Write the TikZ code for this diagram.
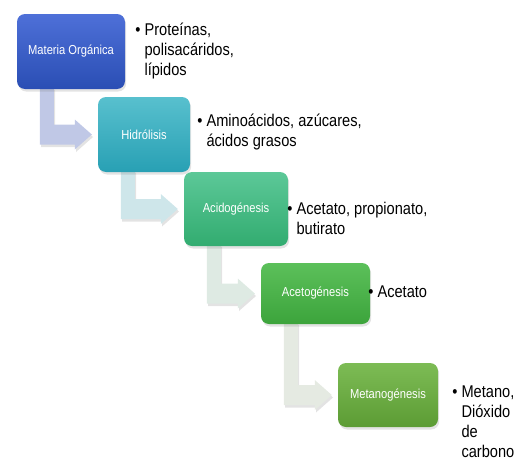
\documentclass[tikz,border=0pt]{standalone}
\usepackage{fontspec}
\setmainfont[FakeStretch=0.86]{Liberation Sans}
\usetikzlibrary{calc,positioning,shadows,backgrounds}

\definecolor{orgtop}{RGB}{78,112,216}
\definecolor{orgbot}{RGB}{42,78,180}
\definecolor{hidtop}{RGB}{88,192,206}
\definecolor{hidbot}{RGB}{40,160,180}
\definecolor{acitop}{RGB}{92,200,152}
\definecolor{acibot}{RGB}{50,172,112}
\definecolor{acetop}{RGB}{92,192,90}
\definecolor{acebot}{RGB}{60,164,60}
\definecolor{mettop}{RGB}{125,188,85}
\definecolor{metbot}{RGB}{92,156,52}
\definecolor{arrorg}{RGB}{192,200,230}
\definecolor{arrhid}{RGB}{206,230,234}
\definecolor{arraci}{RGB}{222,234,227}
\definecolor{arrace}{RGB}{229,234,226}

\newcommand\bentarrow[3]{%
  \fill[#3,softshadow] let \p1=(#1.south west), \p2=(#2.west) in
    (\x1+23pt,\y1+2pt) -- (\x1+37pt,\y1+2pt) -- (\x1+37pt,\y2+10pt)
    -- (\x2-23pt,\y2+10pt) -- (\x2-23pt,\y2+15pt) -- (\x2-6pt,\y2)
    -- (\x2-23pt,\y2-15pt) -- (\x2-23pt,\y2-10pt) -- (\x1+23pt,\y2-10pt) -- cycle;}

\begin{document}
\begin{tikzpicture}[x=1pt,y=1pt,
  softshadow/.style={drop shadow={opacity=.22,shadow xshift=1.2pt,shadow yshift=-2.5pt}},
  stage/.style={rounded corners=8pt,inner sep=0pt,text=white,
    font=\fontsize{13}{15}\selectfont,softshadow},
  notes/.style={inner sep=0pt,font=\fontsize{17}{20}\selectfont}]
  \useasboundingbox (0,0) rectangle (514,-463);

  \node[stage,top color=orgtop,bottom color=orgbot,minimum width=108pt,minimum height=75pt]
    (materia) at (71,-51.5) {Materia Orgánica};
  \node[stage,top color=hidtop,bottom color=hidbot,minimum width=92pt,minimum height=75pt]
    (hidrolisis) at (144,-134.5) {Hidrólisis};
  \node[stage,top color=acitop,bottom color=acibot,minimum width=104pt,minimum height=74pt]
    (acidogenesis) at (236,-209) {Acidogénesis};
  \node[stage,top color=acetop,bottom color=acebot,minimum width=109pt,minimum height=61pt]
    (acetogenesis) at (315.5,-293.5) {Acetogénesis};
  \node[stage,top color=mettop,bottom color=metbot,minimum width=100pt,minimum height=64pt]
    (metanogenesis) at (388,-395) {Metanogénesis};

  \node[notes,right=10pt of materia.east] (materianotes)
    {\begin{tabular}{@{}l@{\hspace{4pt}}l@{}}•&Proteínas,\\&polisacáridos,\\&lípidos\end{tabular}};
  \node[notes,right=7pt of hidrolisis.east,yshift=2.5pt] (hidrolisisnotes)
    {\begin{tabular}{@{}l@{\hspace{4pt}}l@{}}•&Aminoácidos, azúcares,\\&ácidos grasos\end{tabular}};
  \node[notes,right=-1pt of acidogenesis.east,yshift=-11pt] (acidogenesisnotes)
    {\begin{tabular}{@{}l@{\hspace{4pt}}l@{}}•&Acetato, propionato,\\&butirato\end{tabular}};
  \node[notes,right=-2pt of acetogenesis.east] (acetogenesisnotes)
    {\begin{tabular}{@{}l@{\hspace{4pt}}l@{}}•&Acetato\end{tabular}};
  \node[notes,right=14pt of metanogenesis.east,yshift=-28.5pt] (metanogenesisnotes)
    {\begin{tabular}{@{}l@{\hspace{4pt}}l@{}}•&Metano,\\&Dióxido\\&de\\&carbono\end{tabular}};

  \begin{scope}[on background layer]
    \bentarrow{materia}{hidrolisis}{arrorg}
    \bentarrow{hidrolisis}{acidogenesis}{arrhid}
    \bentarrow{acidogenesis}{acetogenesis}{arraci}
    \bentarrow{acetogenesis}{metanogenesis}{arrace}
  \end{scope}
\end{tikzpicture}
\end{document}
